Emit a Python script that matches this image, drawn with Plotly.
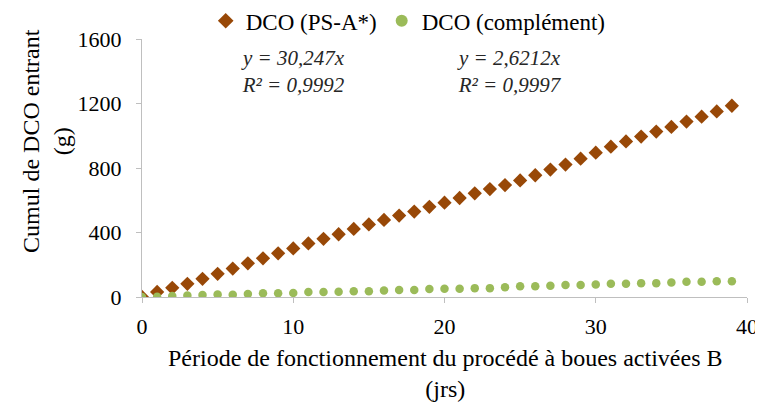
import plotly.graph_objects as go

days = list(range(0, 40))
dco_psa = [0, 31, 57, 82, 113, 144, 176, 209, 240, 271,
           301, 332, 361, 389, 422, 450, 478, 505, 530, 559,
           585, 614, 643, 669, 694, 723, 755, 790, 821, 858,
           895, 932, 965, 995, 1026, 1055, 1088, 1118, 1151, 1186]
dco_compl = [0, 2, 6, 10, 12, 16, 14, 18, 23, 23,
             25, 31, 31, 33, 35, 35, 41, 43, 43, 49,
             51, 51, 55, 55, 61, 66, 66, 70, 74, 74,
             78, 82, 82, 86, 86, 90, 94, 94, 98, 98]

FONT = "Liberation Serif, Times New Roman, serif"

fig = go.Figure()
fig.add_trace(go.Scatter(
    x=days, y=dco_psa, name="DCO (PS-A*)", mode="markers",
    marker=dict(symbol="diamond", size=11, color="#984807")
))
fig.add_trace(go.Scatter(
    x=days, y=dco_compl, name="DCO (complément)", mode="markers",
    marker=dict(symbol="circle", size=8.5, color="#9bbb59")
))

fig.add_annotation(x=10.0, y=1400, text="<i>y = 30,247x<br>R² = 0,9992</i>",
                   showarrow=False, font=dict(family=FONT, size=21, color="#262626"))
fig.add_annotation(x=24.3, y=1400, text="<i>y = 2,6212x<br>R² = 0,9997</i>",
                   showarrow=False, font=dict(family=FONT, size=21, color="#262626"))

# axis titles as annotations so they can sit where the original puts them
fig.add_annotation(xref="paper", yref="paper", x=-0.157, y=0.605,
                   text="Cumul de DCO entrant<br>(g)", textangle=-90,
                   showarrow=False, xanchor="center", yanchor="middle",
                   font=dict(family=FONT, size=24, color="black"))
fig.add_annotation(xref="paper", yref="paper", x=0.5, y=-0.298,
                   text="Période de fonctionnement du procédé à boues activées B<br>(jrs)",
                   showarrow=False, xanchor="center", yanchor="middle",
                   font=dict(family=FONT, size=24, color="black"))

# page has an 8px body margin, so the figure is 8px smaller and shifted
fig.update_layout(
    width=755, height=398,
    plot_bgcolor="white",
    paper_bgcolor="white",
    font=dict(family=FONT, size=22, color="black"),
    margin=dict(l=134, r=16, t=31, b=109, autoexpand=False),
    showlegend=True,
    legend=dict(orientation="h", x=0.44, xanchor="center",
                yref="container", y=0.968, yanchor="middle",
                font=dict(family=FONT, size=23), itemsizing="constant"),
    xaxis=dict(
        range=[0, 40], dtick=10, showgrid=False, zeroline=False,
        showline=True, linecolor="#bfbfbf", linewidth=1,
        ticks="outside", ticklen=5, tickcolor="#bfbfbf",
        tickfont=dict(family=FONT, size=22), automargin=False,
        ticklabelstandoff=5
    ),
    yaxis=dict(
        range=[0, 1600], dtick=400, showgrid=False, zeroline=False,
        showline=True, linecolor="#bfbfbf", linewidth=1,
        ticks="outside", ticklen=5, tickcolor="#bfbfbf",
        tickfont=dict(family=FONT, size=22), automargin=False,
        ticklabelstandoff=10
    )
)

fig.write_html("out.html")
